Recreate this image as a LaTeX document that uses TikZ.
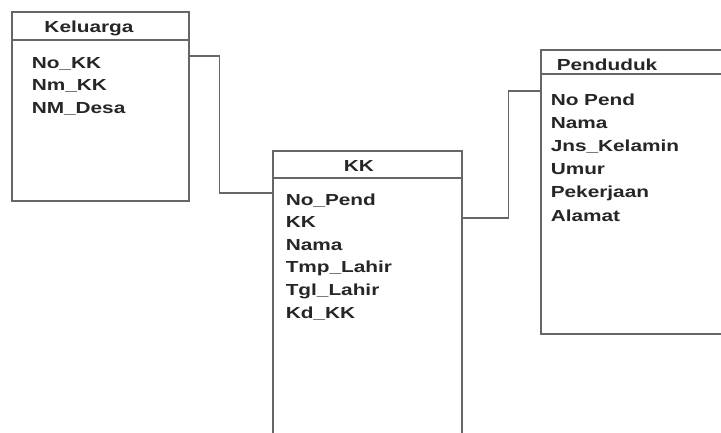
\documentclass[tikz,border=0pt]{standalone}
\usepackage{fontspec}
\setmainfont{Liberation Sans}[FakeStretch=1.3]
\begin{document}
\begin{tikzpicture}[x=1pt, y=-1pt, line width=1.5pt,
		table/.style={rectangle, draw=black!60, anchor=north west, inner sep=0pt},
		title/.style={font=\fontsize{16}{19}\selectfont\bfseries, text=black!85, inner sep=0pt, anchor=base},
		attr/.style={font=\fontsize{16}{19}\selectfont\bfseries, text=black!85, inner sep=0pt, anchor=base west},
		link/.style={draw=black!60}]
		\fill[white] (0,0) rectangle (721,432);
		\useasboundingbox (0,0) rectangle (721,432);
		\clip (0,0) rectangle (721,432);
		% tables
		\node[table, minimum width=177pt, minimum height=189pt] (keluarga) at (11,11) {};
		\node[table, minimum width=189pt, minimum height=300pt] (kk) at (272,150) {};
		\node[table, minimum width=200pt, minimum height=284pt] (penduduk) at (540,49) {};
		\draw[link] ([yshift=-29pt]keluarga.north west) -- ([yshift=-29pt]keluarga.north east);
		\draw[link] ([yshift=-28pt]kk.north west) -- ([yshift=-28pt]kk.north east);
		\draw[link] ([yshift=-25pt]penduduk.north west) -- ([yshift=-25pt]penduduk.north east);
		\node[title] (keluarga-title) at (89,32) {Keluarga};
		\node[title] (kk-title) at (359,171) {KK};
		\node[title, anchor=base west] (penduduk-title) at (556,70) {Penduduk};
		% fields
		\foreach \t [count=\i] in {No\_KK, Nm\_KK, NM\_Desa}
			\node[attr] (keluarga-\i) at (31, 68+22.5*\i-22.5) {\t};
		\foreach \t [count=\i] in {No\_Pend, KK, Nama, Tmp\_Lahir, Tgl\_Lahir, Kd\_KK}
			\node[attr] (kk-\i) at (285, 205+22.6*\i-22.6) {\t};
		\foreach \t [count=\i] in {No Pend, Nama, Jns\_Kelamin, Umur, Pekerjaan, Alamat}
			\node[attr] (penduduk-\i) at (550, 105+23.2*\i-23.2) {\t};
		% relations
		\draw[link] ([yshift=-45pt]keluarga.north east) -- ++(30,0) |- ([yshift=-43pt]kk.north west);
		\draw[link] ([yshift=-68pt]kk.north east) -- ++(46,0) |- ([yshift=-42pt]penduduk.north west);
	\end{tikzpicture}
\end{document}
